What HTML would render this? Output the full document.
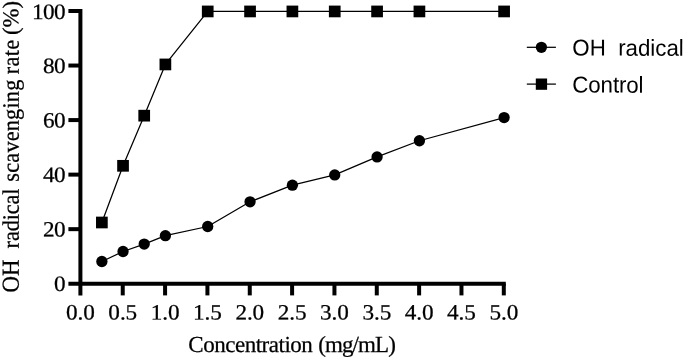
<!DOCTYPE html>
<html lang="en">
<head>
<meta charset="utf-8">
<title>OH radical scavenging rate</title>
<style>
html,body{margin:0;padding:0;background:#fff;}
body{width:685px;height:359px;overflow:hidden;}
svg{display:block;text-rendering:geometricPrecision;}
.ser{font-family:"Liberation Serif","DejaVu Serif",serif;font-size:21.9px;fill:#000;stroke:#000;stroke-width:0.25px;}
.san{font-family:"Liberation Sans","DejaVu Sans",sans-serif;font-size:22.3px;fill:#000;}
</style>
</head>
<body>
<svg width="685" height="359" viewBox="0 0 685 359">
<rect x="0" y="0" width="685" height="359" fill="#fff"/>

<g fill="none" stroke="#000" stroke-width="1.25" stroke-linejoin="round">
<polyline points="101.87,222.49 123.04,165.81 144.21,115.67 165.38,64.44 207.72,11.44 250.06,11.44 292.4,11.44 334.74,11.44 377.08,11.44 419.42,11.44 504.1,11.44"/>
<polyline points="101.87,261.51 123.04,251.51 144.21,244.1 165.38,235.7 207.72,226.49 250.06,201.78 292.4,185.16 334.74,174.91 377.08,156.9 419.42,140.74 504.1,117.58"/>
</g>
<g fill="#000">
<rect x="96.02" y="216.64" width="11.7" height="11.7"/>
<rect x="117.19" y="159.96" width="11.7" height="11.7"/>
<rect x="138.36" y="109.82" width="11.7" height="11.7"/>
<rect x="159.53" y="58.59" width="11.7" height="11.7"/>
<rect x="201.87" y="5.59" width="11.7" height="11.7"/>
<rect x="244.21" y="5.59" width="11.7" height="11.7"/>
<rect x="286.55" y="5.59" width="11.7" height="11.7"/>
<rect x="328.89" y="5.59" width="11.7" height="11.7"/>
<rect x="371.23" y="5.59" width="11.7" height="11.7"/>
<rect x="413.57" y="5.59" width="11.7" height="11.7"/>
<rect x="498.25" y="5.59" width="11.7" height="11.7"/>
<circle cx="101.87" cy="261.51" r="5.65"/>
<circle cx="123.04" cy="251.51" r="5.65"/>
<circle cx="144.21" cy="244.1" r="5.65"/>
<circle cx="165.38" cy="235.7" r="5.65"/>
<circle cx="207.72" cy="226.49" r="5.65"/>
<circle cx="250.06" cy="201.78" r="5.65"/>
<circle cx="292.4" cy="185.16" r="5.65"/>
<circle cx="334.74" cy="174.91" r="5.65"/>
<circle cx="377.08" cy="156.9" r="5.65"/>
<circle cx="419.42" cy="140.74" r="5.65"/>
<circle cx="504.1" cy="117.58" r="5.65"/>
</g>
<g stroke="#000" stroke-width="4" fill="none" stroke-linecap="butt">
<line x1="80.4" y1="9.0" x2="80.4" y2="295.4"/>
<line x1="68.4" y1="283.7" x2="505.8" y2="283.7"/>
<line x1="68.4" y1="229.16" x2="80.4" y2="229.16"/>
<line x1="68.4" y1="174.62" x2="80.4" y2="174.62"/>
<line x1="68.4" y1="120.08" x2="80.4" y2="120.08"/>
<line x1="68.4" y1="65.54" x2="80.4" y2="65.54"/>
<line x1="68.4" y1="11.0" x2="80.4" y2="11.0"/>
<line x1="122.74" y1="283.7" x2="122.74" y2="295.4"/>
<line x1="165.08" y1="283.7" x2="165.08" y2="295.4"/>
<line x1="207.42" y1="283.7" x2="207.42" y2="295.4"/>
<line x1="249.76" y1="283.7" x2="249.76" y2="295.4"/>
<line x1="292.1" y1="283.7" x2="292.1" y2="295.4"/>
<line x1="334.44" y1="283.7" x2="334.44" y2="295.4"/>
<line x1="376.78" y1="283.7" x2="376.78" y2="295.4"/>
<line x1="419.12" y1="283.7" x2="419.12" y2="295.4"/>
<line x1="461.46" y1="283.7" x2="461.46" y2="295.4"/>
<line x1="503.8" y1="283.7" x2="503.8" y2="295.4"/>
</g>
<g class="ser">
<text transform="translate(65.1,291.1) rotate(0.03) scale(1.06,1)" x="0" y="0" text-anchor="end" style="letter-spacing:-0.55px">0</text>
<text transform="translate(65.1,236.56) rotate(0.03) scale(1.06,1)" x="0" y="0" text-anchor="end" style="letter-spacing:-0.55px">20</text>
<text transform="translate(65.1,182.02) rotate(0.03) scale(1.06,1)" x="0" y="0" text-anchor="end" style="letter-spacing:-0.55px">40</text>
<text transform="translate(65.1,127.48) rotate(0.03) scale(1.06,1)" x="0" y="0" text-anchor="end" style="letter-spacing:-0.55px">60</text>
<text transform="translate(65.1,72.94) rotate(0.03) scale(1.06,1)" x="0" y="0" text-anchor="end" style="letter-spacing:-0.55px">80</text>
<text transform="translate(65.1,18.9) rotate(0.03) scale(1.06,1)" x="0" y="0" text-anchor="end" style="letter-spacing:-0.55px">100</text>
<text transform="translate(80.4,319.5) rotate(0.03) scale(1.06,1)" x="0" y="0" text-anchor="middle" style="letter-spacing:-0.08px">0.0</text>
<text transform="translate(122.74,319.5) rotate(0.03) scale(1.06,1)" x="0" y="0" text-anchor="middle" style="letter-spacing:-0.08px">0.5</text>
<text transform="translate(165.08,319.5) rotate(0.03) scale(1.06,1)" x="0" y="0" text-anchor="middle" style="letter-spacing:-0.08px">1.0</text>
<text transform="translate(207.42,319.5) rotate(0.03) scale(1.06,1)" x="0" y="0" text-anchor="middle" style="letter-spacing:-0.08px">1.5</text>
<text transform="translate(249.76,319.5) rotate(0.03) scale(1.06,1)" x="0" y="0" text-anchor="middle" style="letter-spacing:-0.08px">2.0</text>
<text transform="translate(292.1,319.5) rotate(0.03) scale(1.06,1)" x="0" y="0" text-anchor="middle" style="letter-spacing:-0.08px">2.5</text>
<text transform="translate(334.44,319.5) rotate(0.03) scale(1.06,1)" x="0" y="0" text-anchor="middle" style="letter-spacing:-0.08px">3.0</text>
<text transform="translate(376.78,319.5) rotate(0.03) scale(1.06,1)" x="0" y="0" text-anchor="middle" style="letter-spacing:-0.08px">3.5</text>
<text transform="translate(419.12,319.5) rotate(0.03) scale(1.06,1)" x="0" y="0" text-anchor="middle" style="letter-spacing:-0.08px">4.0</text>
<text transform="translate(461.46,319.5) rotate(0.03) scale(1.06,1)" x="0" y="0" text-anchor="middle" style="letter-spacing:-0.08px">4.5</text>
<text transform="translate(503.8,319.5) rotate(0.03) scale(1.06,1)" x="0" y="0" text-anchor="middle" style="letter-spacing:-0.08px">5.0</text>
<text transform="translate(188.3,352.0) rotate(0.03)" x="0" y="0" style="font-size:23.0px;letter-spacing:-0.483px">Concentration<tspan dx="1.0" style="letter-spacing:-0.905px"> (mg/mL)</tspan></text>
</g>
<g class="ser">
<text transform="translate(18.7,292.5) rotate(-89.97) scale(1,1.0699)" x="0" y="0" style="font-size:22.9px;letter-spacing:0.0px">OH</text>
<text transform="translate(18.7,248.38) rotate(-89.97) scale(1,1.0583)" x="0" y="0" style="font-size:22.3px;letter-spacing:-0.125px">radical</text>
<text transform="translate(18.7,181.63) rotate(-89.97) scale(1,1.0583)" x="0" y="0" style="font-size:22.3px;letter-spacing:0.18px">scavenging</text>
<text transform="translate(18.7,74.22) rotate(-89.97) scale(1,1.0583)" x="0" y="0" style="font-size:22.3px;letter-spacing:0.28px">rate</text>
<text transform="translate(18.2,35.0) rotate(-89.97) scale(1,1.0)" x="0" y="0" style="font-size:22.8px;letter-spacing:0.0px">(%)</text>
</g>
<g stroke="#000" stroke-width="1.25">
<line x1="526.8" y1="47.3" x2="555.9" y2="47.3"/>
<line x1="526.8" y1="84.1" x2="555.9" y2="84.1"/>
</g>
<circle cx="541.4" cy="47.3" r="5.65" fill="#000"/>
<rect x="535.8000000000001" y="78.5" width="11.3" height="11.3" fill="#000"/>
<g class="san">
<text transform="translate(572.3,55.6) rotate(0.03) scale(1,1.03)" x="0" y="0" xml:space="preserve" style="white-space:pre;letter-spacing:0px">OH  radical</text>
<text transform="translate(572.3,92.6) rotate(0.03) scale(1,1.03)" x="0" y="0" style="letter-spacing:-0.1px">Control</text>
</g>
</svg>
</body>
</html>
